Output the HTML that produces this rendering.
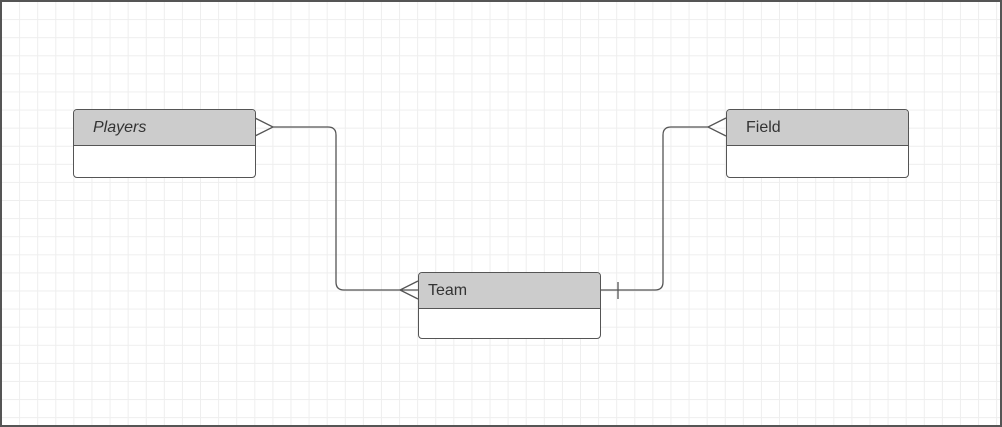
<!DOCTYPE html>
<html><head><style>
html,body{margin:0;padding:0;background:#fff;}
body{width:1002px;height:427px;overflow:hidden;position:relative;font-family:"Liberation Sans",sans-serif;}
.frame{position:absolute;left:0;top:0;width:998px;height:423px;border:2px solid #555;
background-image:linear-gradient(to right,#eeeeee 1px,transparent 1px),linear-gradient(to bottom,#eeeeee 1px,transparent 1px);
background-size:18.1px 18.1px;background-position:-1px -1px;}
.ent{position:absolute;width:183px;border:1px solid #555;border-radius:4px;background:#fff;overflow:hidden;box-sizing:border-box;}
.ent .h{height:36px;background:#ccc;border-bottom:1px solid #555;font-size:16px;color:#333;line-height:35px;padding-left:19px;box-sizing:border-box;}
</style></head><body>
<div class="frame"></div>
<svg width="1002" height="427" style="position:absolute;left:0;top:0">
<g fill="none" stroke="#555" stroke-width="1.3">
<path d="M273 127 H328 Q336 127 336 135 V282 Q336 290 344 290 H418"/>
<path d="M255 118 L273 127 L255 136"/>
<path d="M418 281 L400 290 L418 299"/>
<path d="M708 127 H671 Q663 127 663 135 V282 Q663 290 655 290 H600"/>
<path d="M726 118 L708 127 L726 136"/>
<path d="M618 282 V299"/>
</g></svg>
<div class="ent" style="left:73px;top:109px;height:69px"><div class="h" style="font-style:italic">Players</div></div>
<div class="ent" style="left:418px;top:272px;height:67px"><div class="h" style="padding-left:9px">Team</div></div>
<div class="ent" style="left:726px;top:109px;height:69px"><div class="h">Field</div></div>
</body></html>
